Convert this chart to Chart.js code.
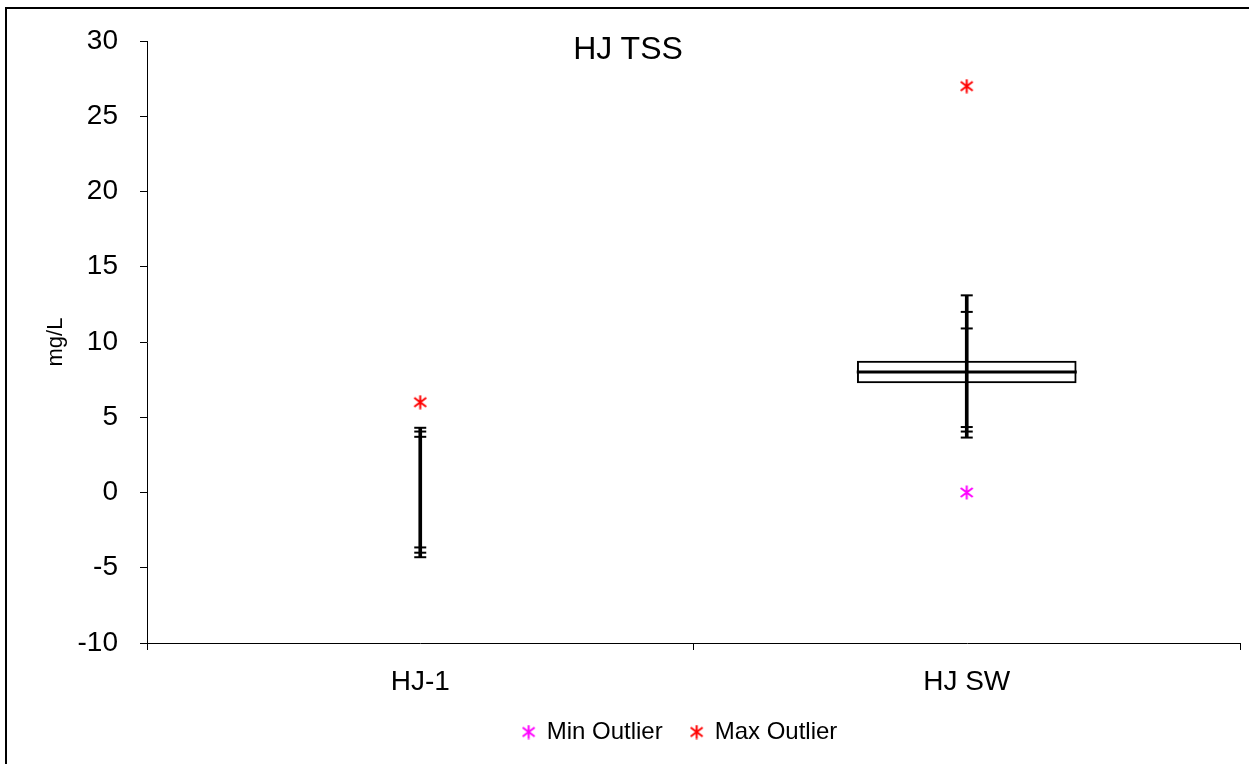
<!DOCTYPE html>
<html>
<head>
<meta charset="utf-8">
<script src="https://cdn.jsdelivr.net/npm/chart.js@4/dist/chart.umd.min.js"></script>
<style>
  html, body { margin: 0; padding: 0; background: #fff; overflow: hidden; }
  #wrap { position: relative; width: 1249px; height: 764px; overflow: hidden; }
  #frame { position: absolute; left: 5px; top: 7px; width: 1300px; height: 800px;
           border-left: 2px solid #000; border-top: 2px solid #000; }
  #title { position: absolute; left: 428px; top: 32px; width: 400px; text-align: center;
           font: 32px/32px 'Liberation Sans', Arial, sans-serif; color: #000; }
  #chart { position: absolute; left: 0; top: 0; }
</style>
</head>
<body>
<div id="wrap">
  <div id="frame"></div>
  <canvas id="chart" width="1360" height="764"></canvas>
  <div id="title">HJ TSS</div>
</div>
<script>
// ---------- data ----------
const categories = ['HJ-1', 'HJ SW'];
const boxRange = [null, [7.28, 8.74]];       // 25th..75th percentile
const medians = [null, 8.0];
const whiskers = [[-4.3, 4.3], [3.65, 13.1]]; // full whisker span
const upperCap1 = [4.3, 13.1];
const upperCap2 = [4.05, 12.0];
const upperCap3 = [3.7, 10.9];
const lowerCap1 = [-3.65, 4.35];
const lowerCap2 = [-4.0, 4.05];
const lowerCap3 = [-4.3, 3.65];
const minOutlier = [null, 0];
const maxOutlier = [6, 27];
const yTicks = { min: -10, max: 30, step: 5 };

const FONT = "'Liberation Sans', Arial, sans-serif";

// asterisk marker like the Excel one (X plus a vertical bar)
function makeStar(color) {
  const c = document.createElement('canvas');
  c.width = 15; c.height = 15;
  const g = c.getContext('2d');
  g.strokeStyle = color;
  g.lineWidth = 2;
  g.beginPath();
  g.moveTo(7.5, 0.5); g.lineTo(7.5, 14.5);
  g.moveTo(1.5, 3); g.lineTo(13.5, 12);
  g.moveTo(13.5, 3); g.lineTo(1.5, 12);
  g.stroke();
  return c;
}

function capSet(label, data) {
  return {
    type: 'line', label: label, data: data, showLine: false, order: 1,
    pointStyle: 'line', pointRadius: 6, pointBorderWidth: 2,
    pointBorderColor: '#000', borderColor: '#000'
  };
}

const datasets = [
  {
    type: 'bar', label: 'Box', data: boxRange, grouped: false, order: 3,
    backgroundColor: '#fff', borderColor: '#000', borderWidth: 2,
    borderSkipped: false, barThickness: 219
  },
  {
    type: 'bar', label: 'Whisker', data: whiskers, grouped: false, order: 2,
    backgroundColor: '#000', borderWidth: 0, barThickness: 3
  },
  {
    type: 'line', label: 'Median', data: medians, showLine: false, order: 1,
    pointStyle: 'line', pointRadius: 110, pointBorderWidth: 3,
    pointBorderColor: '#000', borderColor: '#000'
  },
  capSet('Upper cap 1', upperCap1),
  capSet('Upper cap 2', upperCap2),
  capSet('Upper cap 3', upperCap3),
  capSet('Lower cap 1', lowerCap1),
  capSet('Lower cap 2', lowerCap2),
  capSet('Lower cap 3', lowerCap3),
  {
    type: 'line', label: 'Min Outlier', data: minOutlier, showLine: false, order: 0,
    pointStyle: makeStar('#ff00ff'), borderColor: '#ff00ff', backgroundColor: '#ff00ff'
  },
  {
    type: 'line', label: 'Max Outlier', data: maxOutlier, showLine: false, order: 0,
    pointStyle: makeStar('#ff0000'), borderColor: '#ff0000', backgroundColor: '#ff0000'
  }
];

new Chart(document.getElementById('chart').getContext('2d'), {
  type: 'bar',
  data: { labels: categories, datasets: datasets },
  options: {
    responsive: false,
    animation: false,
    layout: { autoPadding: false, padding: { left: 0, right: 0, top: 41, bottom: 10 } },
    plugins: {
      title: { display: false },
      tooltip: { enabled: false },
      legend: {
        position: 'bottom',
        labels: {
          filter: item => item.text.indexOf('Outlier') >= 0,
          usePointStyle: true,
          boxWidth: 12, boxHeight: 12,
          padding: 28,
          color: '#000',
          font: { family: FONT, size: 24 }
        }
      }
    },
    scales: {
      x: {
        offset: true,
        afterFit: scale => { scale.height = 49; },
        grid: { display: true, offset: true, drawOnChartArea: false, drawTicks: true,
                tickLength: 7, color: '#000' },
        border: { display: true, color: '#000', width: 1 },
        ticks: { color: '#000', padding: 15, font: { family: FONT, size: 28 } }
      },
      y: {
        min: yTicks.min, max: yTicks.max,
        afterFit: scale => { scale.width = 147; },
        grid: { display: true, drawOnChartArea: false, drawTicks: true,
                tickLength: 7, color: '#000' },
        border: { display: true, color: '#000', width: 1 },
        ticks: { stepSize: yTicks.step, color: '#000', padding: 22,
                 font: { family: FONT, size: 28 } },
        title: { display: true, text: 'mg/L', color: '#000',
                 padding: { top: 43, bottom: 0 },
                 font: { family: FONT, size: 22 } }
      },
      // empty right-hand strip so the plot ends where the original does
      yPad: {
        type: 'linear', position: 'right',
        afterFit: scale => { scale.width = 120; },
        grid: { display: false, drawTicks: false },
        border: { display: false },
        ticks: { display: false }
      }
    }
  }
});
</script>
</body>
</html>
